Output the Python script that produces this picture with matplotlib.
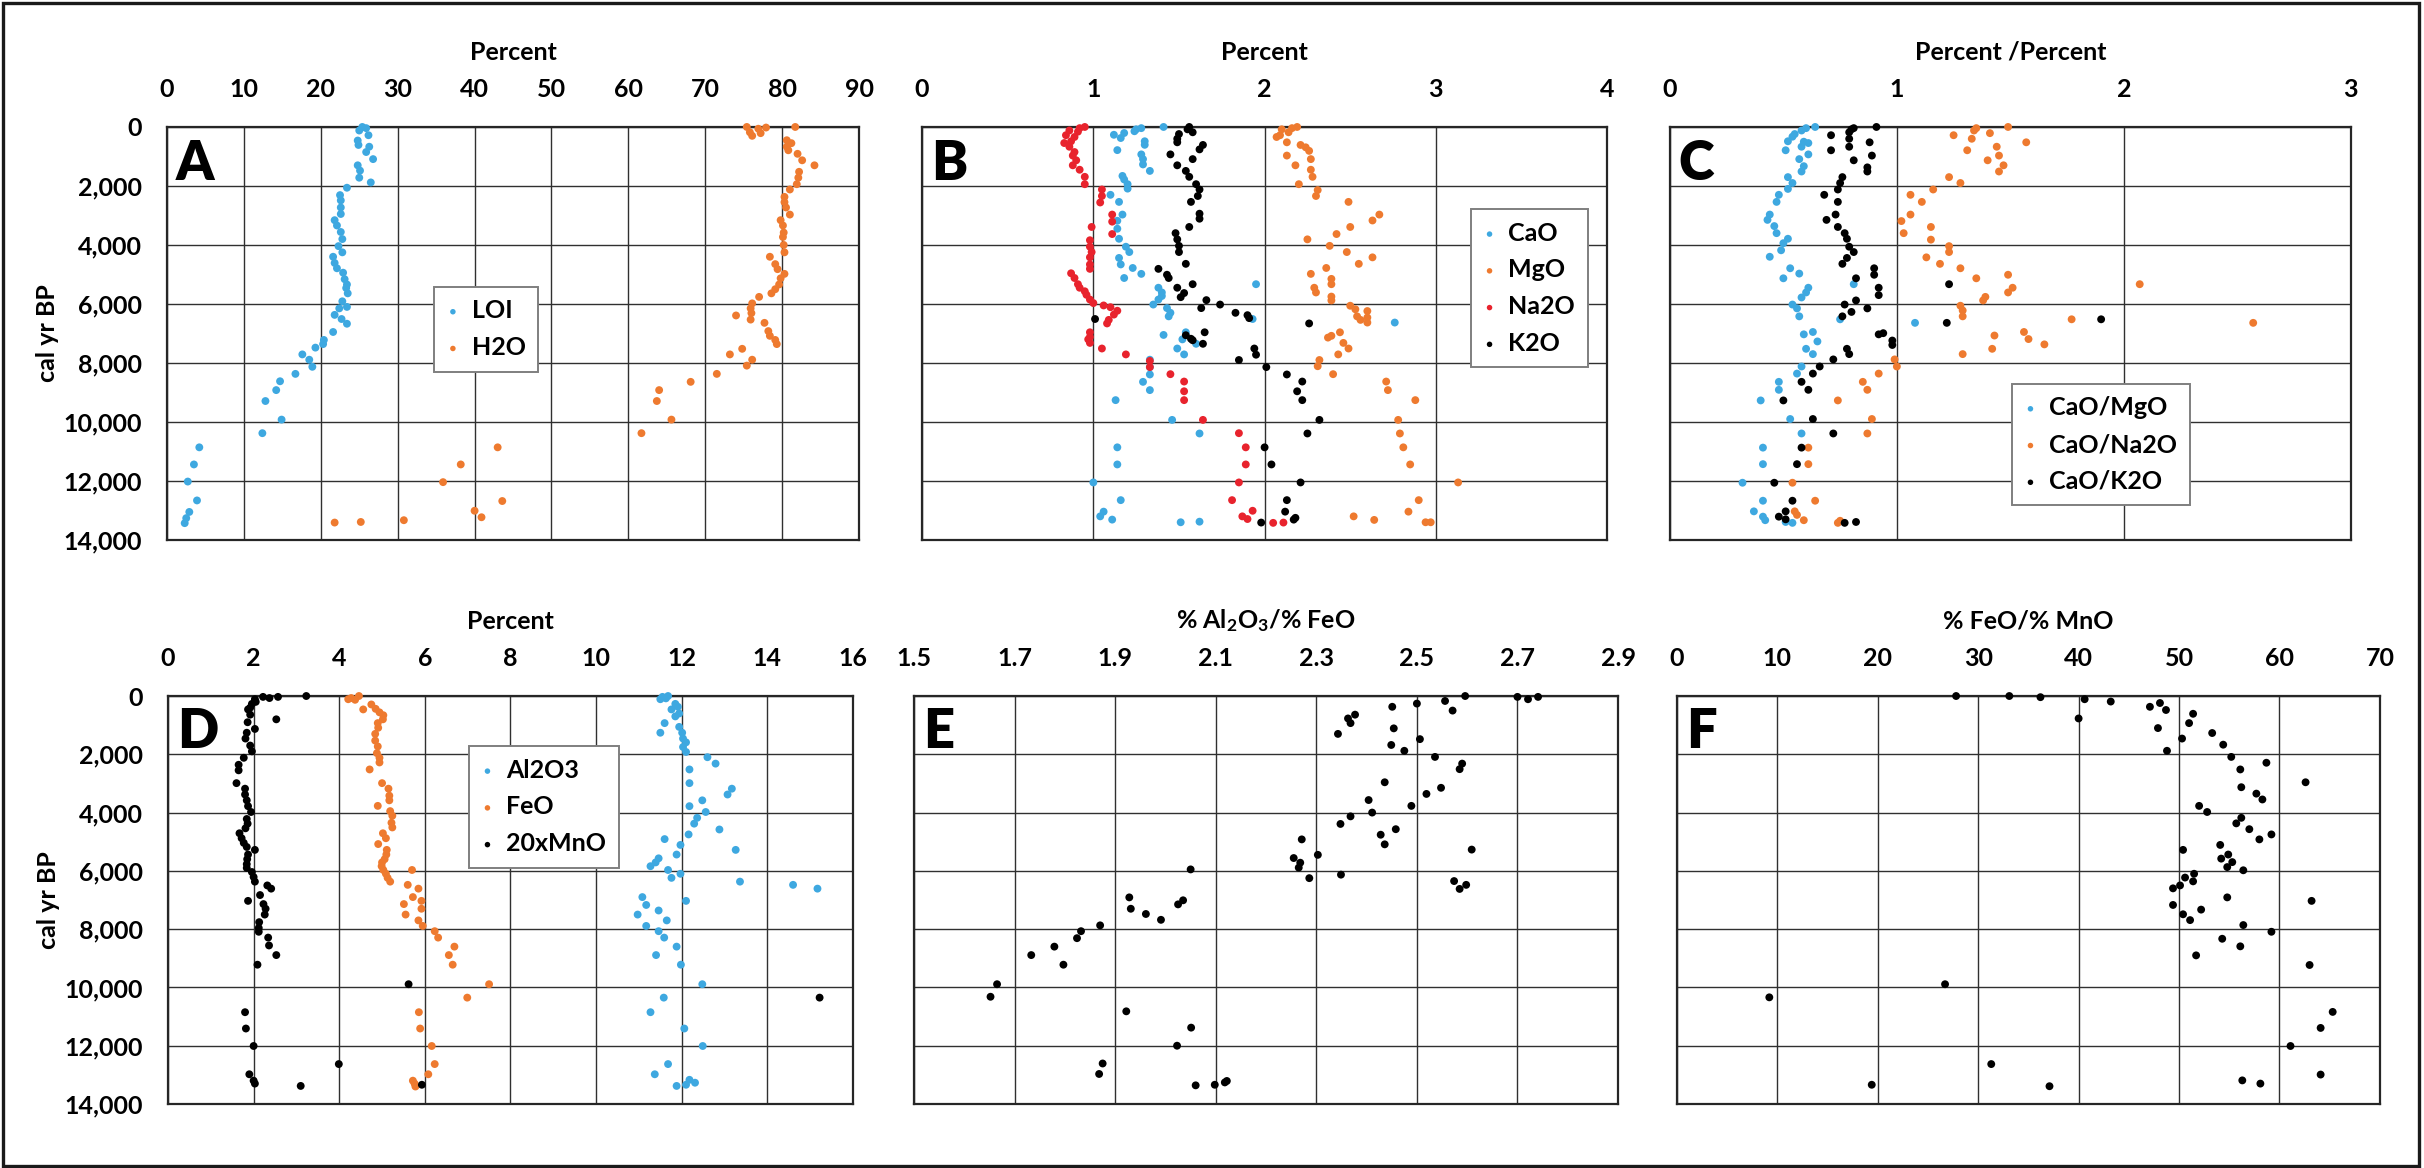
import matplotlib
matplotlib.use("Agg")
import matplotlib.pyplot as plt
from matplotlib.patches import Rectangle

plt.rcParams['font.family'] = ['Lato', 'DejaVu Sans']
plt.rcParams['font.weight'] = 'bold'
plt.rcParams['mathtext.fontset'] = 'custom'
plt.rcParams['mathtext.rm'] = 'Lato:bold'
plt.rcParams['mathtext.it'] = 'Lato:bold'
plt.rcParams['mathtext.bf'] = 'Lato:bold'
plt.rcParams['mathtext.default'] = 'rm'

BLUE = '#3EA8E0'
ORANGE = '#EE7A2F'
RED = '#E8232D'
BLACK = '#000000'

# ---------------- Panel A ----------------
loi_age = [0, 40, 120, 280, 460, 610, 670, 850, 1090, 1300, 1480, 1720, 1880, 2060, 2310, 2490, 2730, 2950,
           3160, 3340, 3560, 3800, 4040, 4250, 4400, 4610, 4790, 4940, 5160, 5340, 5460, 5640, 5910, 6100,
           6150, 6370, 6510, 6670, 6950, 7220, 7360, 7480, 7710, 7890, 8130, 8370, 8620, 8920, 9290, 9920,
           10380, 10860, 11440, 12020, 12660, 13050, 13260, 13430]
loi_val = [25.4, 25.9, 25.0, 26.2, 24.8, 24.9, 26.3, 25.9, 26.8, 24.8, 25.1, 25.0, 26.5, 23.4, 22.5, 22.6, 22.6, 22.6,
           21.8, 22.1, 22.6, 22.8, 22.3, 22.8, 21.6, 21.8, 22.1, 22.9, 23.1, 23.4, 23.3, 23.5, 22.8, 23.4,
           22.4, 21.8, 22.7, 23.4, 21.6, 20.4, 20.3, 19.3, 17.6, 18.5, 18.9, 16.7, 14.7, 14.2, 12.8, 14.9,
           12.4, 4.2, 3.5, 2.7, 3.9, 2.9, 2.5, 2.3]
h2o_age = [0, 0, 20, 60, 180, 210, 300, 450, 550, 670, 790, 910, 1130, 1300, 1520, 1720, 1940, 2120, 2370,
           2550, 2730, 2970, 3160, 3340, 3580, 3730, 4000, 4250, 4400, 4650, 4820, 4980, 5130, 5340, 5500,
           5640, 5760, 5980, 6150, 6310, 6390, 6530, 6640, 6920, 7080, 7220, 7360, 7520, 7710, 7890, 8090,
           8370, 8640, 8920, 9290, 9920, 10380, 10860, 11440, 12040, 12680, 13010, 13230, 13330, 13390, 13410]
h2o_val = [75.4, 81.7, 77.9, 76.9, 75.8, 77.2, 76.1, 80.6, 81.2, 80.6, 80.8, 82.0, 82.6, 84.2, 82.2, 82.1, 81.9, 81.0, 80.3,
           80.3, 80.5, 81.0, 79.8, 80.1, 80.2, 80.1, 80.2, 80.3, 78.4, 79.1, 79.4, 80.3, 79.8, 79.6, 79.1,
           78.6, 77.0, 76.1, 75.9, 76.0, 74.0, 75.9, 77.7, 78.2, 78.4, 79.1, 79.3, 74.8, 73.2, 76.1, 75.4,
           71.5, 68.1, 64.0, 63.7, 65.6, 61.7, 43.0, 38.2, 35.9, 43.6, 40.0, 40.9, 30.8, 25.2, 21.8]

# ---------------- Panel B ----------------
cao_age = [0, 40, 80, 145, 205, 265, 375, 485, 605, 785, 930, 1090, 1270, 1490, 1660, 1780, 1940, 2090, 2300,
           2540, 2970, 3180, 3450, 3790, 4060, 4240, 4440, 4660, 4780, 4980, 5120, 5330, 5450, 5610, 5730,
           5850, 6020, 6140, 6300, 6420, 6510, 6630, 7050, 6960, 7200, 7350, 7510, 7710, 7890, 8140, 8390,
           8640, 8920, 9260, 9930, 10390, 10860, 11440, 12050, 12650, 13040, 13200, 13310, 13400, 13380]
cao_val = [1.41, 1.28, 1.25, 1.24, 1.18, 1.12, 1.16, 1.30, 1.30, 1.14, 1.28, 1.29, 1.29, 1.33, 1.17, 1.18, 1.20, 1.20, 1.10,
           1.15, 1.17, 1.14, 1.14, 1.15, 1.19, 1.21, 1.15, 1.16, 1.23, 1.28, 1.18, 1.95, 1.38, 1.40, 1.40,
           1.38, 1.35, 1.43, 1.45, 1.44, 1.93, 2.76, 1.41, 1.54, 1.52, 1.60, 1.49, 1.53, 1.33, 1.33, 1.33,
           1.29, 1.33, 1.13, 1.46, 1.62, 1.14, 1.14, 1.00, 1.16, 1.06, 1.04, 1.11, 1.51, 1.62]
mgo_age = [0, 40, 80, 180, 280, 340, 520, 610, 690, 810, 970, 1090, 1300, 1450, 1690, 1940, 2140, 2340, 2540,
           2970, 3170, 3390, 3630, 3810, 4030, 4240, 4420, 4640, 4780, 4980, 5150, 5330, 5450, 5610, 5750,
           5880, 6060, 6180, 6240, 6420, 6460, 6540, 6630, 6960, 7140, 7080, 7320, 7510, 7710, 7900, 8110,
           8380, 8630, 8920, 9260, 9930, 10390, 10860, 11440, 12050, 12650, 13040, 13200, 13320, 13400, 13400]
mgo_val = [2.19, 2.16, 2.10, 2.14, 2.09, 2.07, 2.13, 2.21, 2.24, 2.26, 2.13, 2.27, 2.18, 2.27, 2.28, 2.20, 2.31, 2.30, 2.49,
           2.67, 2.63, 2.50, 2.42, 2.25, 2.38, 2.48, 2.63, 2.55, 2.36, 2.27, 2.39, 2.39, 2.29, 2.30, 2.39,
           2.39, 2.50, 2.53, 2.60, 2.54, 2.60, 2.56, 2.60, 2.44, 2.37, 2.39, 2.46, 2.49, 2.43, 2.32, 2.31,
           2.40, 2.71, 2.72, 2.88, 2.78, 2.79, 2.81, 2.85, 3.13, 2.90, 2.84, 2.52, 2.64, 2.94, 2.97]
na2o_age = [0, 40, 120, 160, 280, 340, 485, 545, 670, 850, 970, 1130, 1300, 1450, 1690, 1940, 2120, 2340, 2560,
            2970, 3210, 3390, 3630, 3840, 4060, 4240, 4420, 4660, 4810, 4960, 5120, 5330, 5450, 5570, 5690,
            5850, 5970, 6050, 6110, 6230, 6360, 6540, 6660, 6960, 7120, 7200, 7320, 7510, 7710, 7930, 8140,
            8380, 8630, 8960, 9260, 9930, 10380, 10860, 11440, 12050, 12650, 13010, 13200, 13290, 13420, 13410]
na2o_val = [0.95, 0.92, 0.86, 0.91, 0.84, 0.89, 0.87, 0.83, 0.86, 0.89, 0.88, 0.90, 0.88, 0.92, 0.95, 0.95, 1.05, 1.05, 1.04,
            1.11, 1.11, 0.99, 1.11, 0.98, 0.98, 0.99, 0.98, 0.98, 0.98, 0.87, 0.89, 0.91, 0.92, 0.95, 0.96,
            0.98, 1.00, 1.06, 1.10, 1.14, 1.12, 1.09, 1.08, 0.98, 0.98, 0.97, 0.98, 1.05, 1.19, 1.33, 1.33,
            1.45, 1.53, 1.53, 1.53, 1.64, 1.85, 1.89, 1.89, 1.85, 1.81, 1.93, 1.87, 1.90, 2.05, 2.11]
k2o_age = [0, 80, 180, 240, 400, 520, 610, 760, 930, 1090, 1300, 1490, 1690, 1940, 2120, 2340, 2540, 2940,
           3110, 3390, 3600, 3810, 4030, 4240, 4640, 4810, 5010, 5120, 5450, 5330, 5630, 5770, 5870, 6020,
           6140, 6300, 6380, 6480, 6510, 6660, 6960, 7060, 7180, 7230, 7350, 7510, 7720, 7900, 8140, 8390,
           8630, 8960, 9260, 9930, 10390, 10860, 11440, 12050, 12650, 13040, 13250, 13310, 13410]
k2o_val = [1.56, 1.55, 1.58, 1.50, 1.49, 1.49, 1.64, 1.62, 1.45, 1.58, 1.49, 1.54, 1.56, 1.60, 1.62, 1.61, 1.57, 1.62,
           1.62, 1.56, 1.48, 1.49, 1.50, 1.50, 1.54, 1.38, 1.43, 1.44, 1.49, 1.58, 1.53, 1.51, 1.66, 1.74,
           1.63, 1.83, 1.90, 1.91, 1.01, 2.26, 1.65, 1.54, 1.57, 1.58, 1.64, 1.94, 1.95, 1.85, 2.01, 2.13,
           2.22, 2.19, 2.22, 2.32, 2.25, 2.00, 2.04, 2.21, 2.13, 2.12, 2.18, 2.17, 1.98]

# ---------------- Panel C ----------------
camg_age = [0, 40, 120, 240, 330, 485, 500, 545, 670, 790, 930, 1090, 1330, 1510, 1700, 1900, 2100, 2300, 2540,
            2970, 3150, 3360, 3600, 3790, 3940, 4180, 4400, 4790, 4970, 5130, 5330, 5450, 5610, 5780, 6020,
            6150, 6420, 6520, 6640, 7030, 6950, 7270, 7520, 7700, 8120, 8360, 8640, 8910, 9270, 9900, 10390,
            10870, 11430, 12060, 12670, 13030, 13210, 13330, 13390, 13420]
camg_val = [0.64, 0.60, 0.58, 0.55, 0.54, 0.52, 0.59, 0.61, 0.58, 0.51, 0.61, 0.57, 0.59, 0.58, 0.52, 0.54, 0.52, 0.48, 0.47,
            0.44, 0.43, 0.46, 0.47, 0.52, 0.50, 0.49, 0.44, 0.53, 0.57, 0.50, 0.81, 0.61, 0.60, 0.58, 0.54,
            0.56, 0.57, 0.75, 1.08, 0.59, 0.63, 0.65, 0.60, 0.63, 0.58, 0.56, 0.48, 0.48, 0.40, 0.53, 0.58,
            0.41, 0.41, 0.32, 0.41, 0.37, 0.41, 0.42, 0.51, 0.54]
cana_age = [0, 40, 120, 210, 280, 400, 520, 670, 790, 970, 1130, 1300, 1510, 1700, 1900, 2120, 2300, 2540,
            2970, 3190, 3390, 3600, 3820, 4040, 4240, 4420, 4640, 4790, 5130, 5010, 5330, 5450, 5610, 5760,
            5880, 6060, 6220, 6420, 6520, 6640, 6950, 7190, 7070, 7370, 7520, 7700, 7880, 8120, 8360, 8640,
            8910, 9270, 9900, 10390, 10870, 11430, 12060, 12670, 13030, 13150, 13330, 13420, 13350]
cana_val = [1.49, 1.35, 1.34, 1.41, 1.25, 1.33, 1.57, 1.44, 1.31, 1.45, 1.40, 1.47, 1.45, 1.23, 1.28, 1.16, 1.06, 1.11,
            1.06, 1.02, 1.15, 1.03, 1.15, 1.23, 1.23, 1.13, 1.19, 1.28, 1.35, 1.49, 2.07, 1.51, 1.49, 1.39,
            1.38, 1.28, 1.29, 1.29, 1.77, 2.57, 1.56, 1.58, 1.43, 1.65, 1.42, 1.29, 0.99, 1.00, 0.92, 0.85,
            0.87, 0.74, 0.89, 0.87, 0.61, 0.61, 0.54, 0.64, 0.55, 0.56, 0.59, 0.74, 0.75]
cak_age = [0, 40, 80, 180, 280, 400, 520, 670, 790, 970, 1130, 1370, 1510, 1700, 1900, 2120, 2300, 2540,
           2970, 3150, 3390, 3600, 3790, 4060, 4240, 4440, 4640, 4790, 5010, 5130, 5330, 5450, 5700, 5880,
           6020, 6150, 6270, 6420, 6640, 6520, 7030, 6990, 7240, 7390, 7520, 7700, 7880, 8120, 8360, 8640,
           8910, 9270, 9900, 10390, 10870, 11430, 12060, 12670, 13030, 13210, 13300, 13420, 13390]
cak_val = [0.91, 0.81, 0.80, 0.79, 0.71, 0.79, 0.88, 0.79, 0.71, 0.89, 0.81, 0.87, 0.87, 0.76, 0.75, 0.74, 0.68, 0.74,
           0.73, 0.69, 0.74, 0.77, 0.78, 0.79, 0.81, 0.78, 0.76, 0.90, 0.90, 0.82, 1.23, 0.92, 0.92, 0.82,
           0.77, 0.87, 0.80, 0.76, 1.22, 1.90, 0.92, 0.94, 0.98, 0.98, 0.78, 0.79, 0.72, 0.66, 0.63, 0.58,
           0.61, 0.50, 0.63, 0.72, 0.58, 0.56, 0.46, 0.54, 0.51, 0.48, 0.51, 0.77, 0.82]

# ---------------- Panel D ----------------
mno_age = [0, 30, 70, 30, 110, 200, 270, 400, 460, 640, 800, 900, 1130, 1260, 1460, 1700, 1900, 2120, 2360,
           2550, 2990, 3180, 3380, 3580, 3780, 3980, 4220, 4380, 4540, 4710, 4880, 5040, 5180, 5280, 5440,
           5600, 5770, 5900, 6040, 6210, 6370, 6500, 6610, 6830, 7030, 7140, 7300, 7500, 7760, 7960, 8090,
           8290, 8560, 8890, 9220, 9890, 10350, 10850, 11410, 12010, 12630, 12980, 13200, 13300, 13380, 13340]
mno_val = [3.23, 2.57, 2.37, 2.22, 2.03, 2.05, 1.96, 1.92, 1.87, 1.92, 2.53, 1.86, 2.03, 1.84, 1.81, 1.92, 1.96, 1.77, 1.65,
           1.65, 1.60, 1.80, 1.80, 1.84, 1.87, 1.94, 1.84, 1.86, 1.81, 1.67, 1.72, 1.77, 1.84, 2.03, 1.87,
           1.85, 1.84, 1.84, 1.96, 2.00, 2.03, 2.32, 2.41, 2.15, 1.87, 2.23, 2.28, 2.26, 2.13, 2.12, 2.12,
           2.34, 2.36, 2.53, 2.09, 5.62, 15.22, 1.80, 1.82, 2.00, 3.99, 1.90, 2.00, 2.03, 3.10, 5.93]
feo_age = [0, 70, 130, 110, 290, 460, 440, 560, 660, 800, 930, 1090, 1300, 1530, 1730, 1960, 2120, 2280, 2520,
           2990, 3180, 3420, 3580, 3770, 3950, 4110, 4350, 4510, 4710, 4880, 5080, 5280, 5440, 5600, 5710,
           5840, 5970, 5970, 6100, 6240, 6370, 6480, 6610, 6900, 7030, 7140, 7300, 7500, 7700, 7890, 8070,
           8290, 8600, 8890, 9220, 9890, 10350, 10850, 11410, 12010, 12630, 12980, 13200, 13300, 13400]
feo_val = [4.46, 4.28, 4.37, 4.21, 4.75, 4.56, 4.85, 4.94, 5.03, 5.02, 4.90, 4.91, 4.84, 4.84, 4.90, 4.88, 4.94, 4.94, 4.71,
           5.00, 5.15, 5.17, 5.17, 4.90, 5.19, 5.24, 5.22, 5.24, 5.02, 5.09, 4.91, 5.11, 5.10, 5.06, 5.00,
           4.99, 5.03, 5.70, 5.09, 5.13, 5.19, 5.60, 5.85, 5.72, 5.92, 5.51, 5.92, 5.55, 5.85, 5.95, 6.23,
           6.31, 6.69, 6.56, 6.65, 7.50, 6.99, 5.86, 5.89, 6.16, 6.23, 6.08, 5.72, 5.76, 5.78]
al2o3_age = [30, 80, 0, 110, 270, 370, 460, 600, 700, 930, 1060, 1260, 1260, 1460, 1590, 1750, 1920, 2100, 2320,
             2520, 2990, 3180, 3380, 3580, 3780, 3980, 4180, 4380, 4580, 4750, 4910, 5110, 5280, 5440, 5570,
             5710, 5840, 5970, 6100, 6240, 6370, 6480, 6610, 7030, 6900, 7170, 7360, 7500, 7700, 7890, 8070,
             8290, 8600, 8890, 9220, 9890, 10350, 10850, 11410, 12010, 12630, 12980, 13170, 13270, 13340, 13380]
al2o3_val = [11.55, 11.63, 11.68, 11.50, 11.85, 11.91, 11.76, 11.94, 11.85, 11.60, 11.94, 11.50, 12.01, 12.03, 12.10, 12.03, 12.10, 12.60, 12.79,
             12.18, 12.18, 13.17, 13.07, 12.48, 12.18, 12.56, 12.36, 12.29, 12.88, 12.16, 11.60, 11.97, 13.26, 11.88, 11.46,
             11.39, 11.27, 11.68, 11.97, 11.76, 13.36, 14.60, 15.17, 12.10, 11.08, 11.17, 11.46, 10.97, 11.65, 11.17, 11.46,
             11.59, 11.88, 11.40, 11.98, 12.48, 11.58, 11.27, 12.06, 12.49, 11.68, 11.37, 12.18, 12.31, 12.10, 11.88]

# ---------------- Panel E ----------------
alfe_age = [0, 30, 110, 30, 170, 500, 260, 370, 640, 770, 930, 1300, 1110, 1480, 1680, 1880, 2090, 2320, 2510,
            2960, 3150, 3360, 3570, 3770, 4000, 4130, 4390, 4570, 4760, 5090, 5270, 4920, 5450, 5560, 5720,
            5890, 5950, 6250, 6130, 6350, 6620, 6480, 6910, 7300, 7480, 7680, 7150, 7010, 7870, 8070, 8310,
            8600, 8890, 9220, 9890, 10320, 10820, 11380, 12000, 12610, 12970, 13360, 13340, 13260, 13210]
alfe_val = [2.596, 2.700, 2.721, 2.741, 2.556, 2.571, 2.500, 2.451, 2.377, 2.363, 2.368, 2.343, 2.454, 2.506, 2.449, 2.475, 2.536, 2.590, 2.585,
            2.436, 2.548, 2.519, 2.404, 2.489, 2.411, 2.368, 2.348, 2.458, 2.428, 2.436, 2.609, 2.271, 2.303, 2.255, 2.268,
            2.265, 2.050, 2.286, 2.349, 2.574, 2.585, 2.598, 1.928, 1.931, 1.961, 1.991, 2.025, 2.035, 1.870, 1.832, 1.824,
            1.779, 1.733, 1.797, 1.665, 1.652, 1.922, 2.051, 2.023, 1.875, 1.868, 2.060, 2.098, 2.118, 2.122]

# ---------------- Panel F ----------------
femn_age = [0, 0, 40, 110, 190, 370, 240, 480, 770, 610, 930, 1100, 1270, 1460, 1670, 1880, 2090, 2290, 2520,
            2960, 3130, 3350, 3550, 3770, 3980, 4180, 4370, 4570, 4750, 4920, 5110, 5280, 5440, 5580, 5700,
            5870, 5980, 6100, 6230, 6360, 6500, 6600, 6910, 7030, 7170, 7330, 7490, 7690, 7860, 8090, 8330,
            8590, 8900, 9230, 9890, 10340, 10840, 11390, 12010, 12630, 12990, 13190, 13300, 13340, 13390]
femn_val = [27.8, 33.1, 36.2, 40.6, 43.2, 47.1, 48.1, 48.7, 40.0, 51.4, 51.0, 47.9, 53.3, 50.3, 54.4, 48.8, 55.2, 58.7, 56.1,
            62.6, 56.2, 57.7, 58.3, 52.0, 52.8, 56.2, 55.7, 57.0, 59.2, 58.0, 54.1, 50.4, 54.9, 54.2, 55.3,
            54.8, 56.4, 51.5, 50.6, 51.4, 50.1, 49.4, 54.8, 63.2, 49.4, 52.2, 50.4, 51.1, 56.4, 59.2, 54.3,
            56.1, 51.7, 63.0, 26.7, 9.2, 65.3, 64.1, 61.1, 31.3, 64.1, 56.3, 58.1, 19.4, 37.1]

# ---------------- Axes settings ----------------
y_ticks = [0, 2000, 4000, 6000, 8000, 10000, 12000, 14000]
y_tick_labels = ['0', '2,000', '4,000', '6,000', '8,000', '10,000', '12,000', '14,000']

fig = plt.figure(figsize=(24.24, 11.68), dpi=100)

# axes rectangles (figure fractions)
rects = {
    'A': [0.0689, 0.5377, 0.2855, 0.3536],
    'B': [0.3804, 0.5377, 0.2826, 0.3536],
    'C': [0.6889, 0.5377, 0.2809, 0.3536],
    'D': [0.0693, 0.0548, 0.2826, 0.3493],
    'E': [0.3771, 0.0548, 0.2904, 0.3493],
    'F': [0.6918, 0.0548, 0.2900, 0.3493],
}
TICK_FS = 18
MS = 32


def setup(ax, letter, xlim, xstep, xlabel, ylab, fmt=None):
    ax.set_xlim(*xlim)
    ax.set_ylim(14000, 0)
    n = int(round((xlim[1] - xlim[0]) / xstep))
    xt = [xlim[0] + i * xstep for i in range(n + 1)]
    ax.set_xticks(xt)
    if fmt:
        ax.set_xticklabels([fmt.format(v) for v in xt])
    ax.set_yticks(y_ticks)
    if ylab:
        ax.set_yticklabels(y_tick_labels)
        ax.set_ylabel('cal yr BP', fontsize=TICK_FS, fontweight='bold', labelpad=3)
    else:
        ax.set_yticklabels([])
    ax.xaxis.tick_top()
    ax.xaxis.set_label_position('top')
    ax.set_xlabel(xlabel, fontsize=TICK_FS, fontweight='bold', labelpad=13)
    ax.tick_params(axis='x', length=0, pad=19, labelsize=TICK_FS)
    ax.tick_params(axis='y', length=0, pad=18, labelsize=TICK_FS)
    ax.grid(True, color='#303030', linewidth=1.0)
    ax.set_axisbelow(True)
    for s in ax.spines.values():
        s.set_linewidth(1.6)
        s.set_color('#262626')
    ax.text(0.013, 0.972, letter, transform=ax.transAxes, ha='left', va='top',
            fontsize=39, fontweight='heavy', zorder=5)


def dots(ax, x, y, c, label=None):
    ax.scatter(x, y, s=MS, color=c, edgecolors='none', label=label, clip_on=False, zorder=3)


def legend(ax, anchor):
    lg = ax.legend(loc='upper left', bbox_to_anchor=anchor, borderaxespad=0, frameon=True,
                   fancybox=False, edgecolor='#7f7f7f', framealpha=1, fontsize=TICK_FS,
                   handlelength=0.5, handletextpad=0.5, labelspacing=0.55, borderpad=0.5,
                   markerscale=0.7)
    lg.get_frame().set_linewidth(1.4)
    lg.set_zorder(10)


axA = fig.add_axes(rects['A'])
setup(axA, 'A', (0, 90), 10, 'Percent', True)
dots(axA, loi_val, loi_age, BLUE, 'LOI')
dots(axA, h2o_val, h2o_age, ORANGE, 'H2O')
legend(axA, (0.386, 0.613))

axB = fig.add_axes(rects['B'])
setup(axB, 'B', (0, 4), 1, 'Percent', False)
dots(axB, cao_val, cao_age, BLUE, 'CaO')
dots(axB, mgo_val, mgo_age, ORANGE, 'MgO')
dots(axB, na2o_val, na2o_age, RED, 'Na2O')
dots(axB, k2o_val, k2o_age, BLACK, 'K2O')
legend(axB, (0.801, 0.801))

axC = fig.add_axes(rects['C'])
setup(axC, 'C', (0, 3), 1, 'Percent /Percent', False)
dots(axC, camg_val, camg_age, BLUE, 'CaO/MgO')
dots(axC, cana_val, cana_age, ORANGE, 'CaO/Na2O')
dots(axC, cak_val, cak_age, BLACK, 'CaO/K2O')
legend(axC, (0.502, 0.378))

axD = fig.add_axes(rects['D'])
setup(axD, 'D', (0, 16), 2, 'Percent', True)
dots(axD, al2o3_val, al2o3_age, BLUE, 'Al2O3')
dots(axD, feo_val, feo_age, ORANGE, 'FeO')
dots(axD, mno_val, mno_age, BLACK, '20xMnO')
legend(axD, (0.439, 0.877))

axE = fig.add_axes(rects['E'])
setup(axE, 'E', (1.5, 2.9), 0.2, r'% Al$_2$O$_3$/% FeO', False, fmt='{:.1f}')
dots(axE, alfe_val, alfe_age, BLACK)

axF = fig.add_axes(rects['F'])
setup(axF, 'F', (0, 70), 10, '% FeO/% MnO', False)
dots(axF, femn_val, femn_age, BLACK)

# outer frame
fig.patches.append(Rectangle((0.0012, 0.002), 0.9966, 0.9955, transform=fig.transFigure,
                             fill=False, edgecolor='#1a1a1a', linewidth=2.4, zorder=0))

fig.savefig('out.png', dpi=100, facecolor='white')
